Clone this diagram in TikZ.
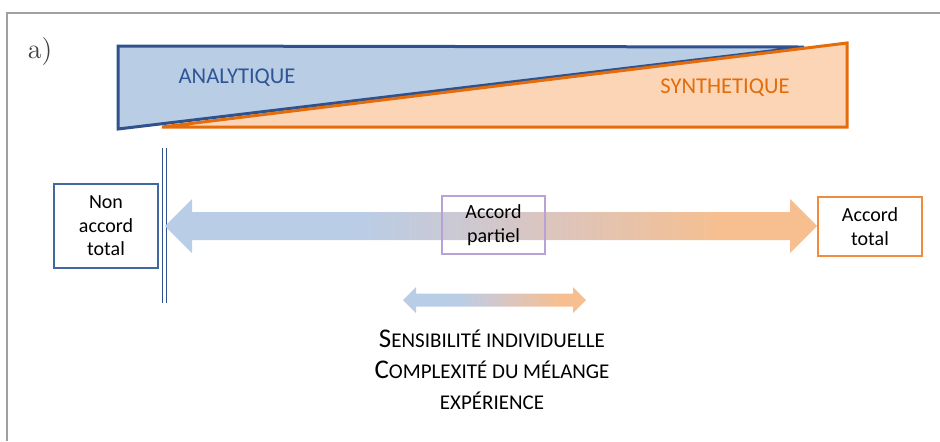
\documentclass[tikz,border=0pt]{standalone}
\usepackage{fontspec}
\setsansfont{Carlito}
\usepackage{tikz}
\usetikzlibrary{positioning}
\definecolor{anaFill}{HTML}{B9CDE5}
\definecolor{anaLine}{HTML}{2F528F}
\definecolor{anaText}{HTML}{2F5597}
\definecolor{synFill}{HTML}{FBD5B5}
\definecolor{synLine}{HTML}{E46C0A}
\definecolor{arrBlue}{HTML}{BACDE6}
\definecolor{arrMid}{HTML}{D6C6C6}
\definecolor{arrOrange}{HTML}{F7BF8F}
\definecolor{nonBlue}{HTML}{41689F}
\definecolor{partPurple}{HTML}{B7A2D8}
\definecolor{totOrange}{HTML}{F08C3C}
\definecolor{frameGray}{HTML}{A0A0A0}
\pgfdeclarehorizontalshading{blueorange}{100bp}{color(0bp)=(arrBlue); color(25bp)=(arrBlue); color(40bp)=(arrBlue); color(52bp)=(arrMid); color(68bp)=(arrOrange); color(75bp)=(arrOrange); color(100bp)=(arrOrange)}
\newcommand{\petit}[1]{{\fontsize{10.5}{12}\selectfont #1}}

\begin{document}
\begin{tikzpicture}[
  x=0.5pt, y=-0.5pt, font=\sffamily,
  box/.style={draw, line width=0.6pt, align=center, minimum width=52pt, font=\sffamily\fontsize{10}{11.75}\selectfont},
  tri/.style={line width=1.5pt, line join=miter},
  fat/.style={shading=blueorange},
  tag/.style={font=\sffamily\fontsize{11.3}{13}\selectfont}
]
  \useasboundingbox (0,0) rectangle (940,441);
  \draw[frameGray, line width=1pt] (7,441) -- (7,13) -- (940,13);
  \node[font=\rmfamily\fontsize{14}{16}\selectfont, text=black!75] (lbl) at (40,52) {a)};

  % triangles
  \filldraw[tri, fill=anaFill, draw=anaLine] (118,46) -- (804,47) -- (118,129) -- cycle;
  \filldraw[tri, fill=synFill, draw=synLine] (162,127) -- (847,43) -- (847,127) -- cycle;
  \node[tag, text=anaText] (ana) at (237,78) {ANALYTIQUE};
  \node[tag, text=synLine] (syn) at (725,88) {SYNTHETIQUE};

  % double bar
  \coordinate (barTop) at (164.5,148);
  \coordinate (barBot) at (164.5,303);
  \draw[anaLine, line width=0.65pt, double=white, double distance=1.55pt] (barTop) -- (barBot);

  % main arrow
  \shade[fat] (165,226) -- (192,199) -- (192,212) -- (790,212) -- (790,199) -- (817,226)
    -- (790,253) -- (790,240) -- (192,240) -- (192,253) -- cycle;

  \node[box, draw=nonBlue, minimum height=42pt] (non) at (106,226) {Non\\accord\\total};
  \node[box, draw=partPurple, minimum width=51.5pt, minimum height=29pt] (part) at (493.5,225) {Accord\\partiel};
  \node[box, draw=totOrange, minimum height=29.5pt] (tot) at (870,226.5) {Accord\\total};

  % small arrow
  \shade[fat] (403,300) -- (416,287) -- (416,293.5) -- (573,293.5) -- (573,287) -- (586,300)
    -- (573,313) -- (573,306.5) -- (416,306.5) -- (416,313) -- cycle;

  \node[align=center, font=\sffamily\fontsize{13.5}{15.5}\selectfont] (facteurs) at (492,370)
    {S\petit{ENSIBILITÉ INDIVIDUELLE}\\C\petit{OMPLEXITÉ DU MÉLANGE}\\\petit{EXPÉRIENCE}};
\end{tikzpicture}
\end{document}
